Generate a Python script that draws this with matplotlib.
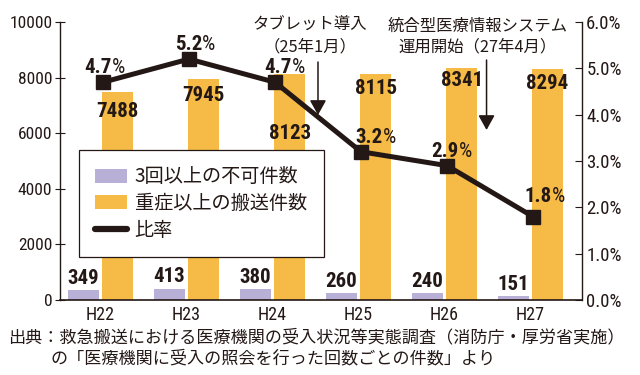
import matplotlib
matplotlib.use('Agg')
import matplotlib.pyplot as plt
from matplotlib import font_manager as fm
from matplotlib.patches import Patch
from matplotlib.lines import Line2D
import numpy as np

# フォント選択
names = {f.name for f in fm.fontManager.ttflist}
def pick(*cands):
    for c in cands:
        if c in names:
            return c
    return 'DejaVu Sans'

NUM = pick('Roboto Condensed', 'Liberation Sans Narrow', 'DejaVu Sans Condensed', 'Liberation Sans')
JP = 'Noto Sans CJK JP'
plt.rcParams['font.family'] = [JP, 'DejaVu Sans']

# データ
years = ['H22', 'H23', 'H24', 'H25', 'H26', 'H27']
refused = [349, 413, 380, 260, 240, 151]          # 3回以上の不可件数
transported = [7488, 7945, 8123, 8115, 8341, 8294]  # 重症以上の搬送件数
ratio = [4.7, 5.2, 4.7, 3.2, 2.9, 1.8]             # 比率(%)
left_ticks = [0, 2000, 4000, 6000, 8000, 10000]
right_ticks = [0, 1, 2, 3, 4, 5, 6]

ORANGE = '#F6BB47'
PURPLE = '#B8B0D6'
INK = '#231815'

fig = plt.figure(figsize=(6.4, 3.75), dpi=100)
ax = fig.add_axes([60 / 640, 1 - 300 / 375, 522 / 640, 278 / 375])
ax2 = ax.twinx()

x = np.arange(len(years))
ax.bar(x - 0.2, refused, width=0.36, color=PURPLE, zorder=2)
ax.bar(x + 0.2, transported, width=0.36, color=ORANGE, zorder=2)
ax2.plot(x + 0.03, ratio, color=INK, lw=3.6, marker='s', markersize=10.5,
         solid_joinstyle='miter', zorder=3)

ax.set_xlim(-0.47, 5.6)
ax.set_ylim(0, 10000)
ax2.set_ylim(0, 6)

# 軸の体裁
for s in ['top', 'right']:
    ax.spines[s].set_visible(False)
for s in ['top', 'left', 'bottom']:
    ax2.spines[s].set_visible(False)
ax.spines['left'].set_color(INK)
ax.spines['bottom'].set_color(INK)
ax2.spines['right'].set_color(INK)
ax.spines['left'].set_linewidth(1.0)
ax.spines['bottom'].set_linewidth(1.2)
ax2.spines['right'].set_linewidth(1.0)

ax.set_yticks(left_ticks)
ax.set_yticklabels([str(v) for v in left_ticks], fontfamily=NUM, fontsize=12.5, color=INK)
ax.tick_params(axis='y', direction='inout', length=7, width=0.8, color=INK, pad=2)
ax.set_xticks(x)
ax.set_xticklabels(years, fontfamily=NUM, fontsize=13, color=INK)
ax.tick_params(axis='x', length=0, pad=4)

ax2.set_yticks(right_ticks)
ax2.set_yticklabels([f'{v:.1f}%' for v in right_ticks], fontfamily=NUM, fontsize=13.5, color=INK)
ax2.tick_params(axis='y', direction='in', length=5, width=0.8, color=INK, pad=3)

# 数値ラベル
bar_dy = [-14, -11.5, -42.5, -10, -8.6, -10]
for i in range(len(years)):
    ax.annotate(str(refused[i]), (x[i] - 0.2, refused[i]), xytext=(0, 1.5),
                textcoords='offset points', ha='center', va='bottom',
                fontfamily=NUM, fontweight='bold', fontsize=15, color=INK, zorder=4)
    ax.annotate(str(transported[i]), (x[i] + 0.2, transported[i]), xytext=(0, bar_dy[i]),
                textcoords='offset points', ha='center', va='center',
                fontfamily=NUM, fontweight='bold', fontsize=15, color=INK, zorder=4)

pct_dx = [6.5, 9.4, 12.2, 15.8, 8.6, 13.7]
pct_dy = [10.8, 10.8, 10.8, 10, 10, 14.4]
for i in range(len(years)):
    ax2.annotate(f'{ratio[i]:.1f}', (x[i] + 0.03, ratio[i]), xytext=(pct_dx[i], pct_dy[i]),
                 textcoords='offset points', ha='right', va='center',
                 fontfamily=NUM, fontweight='bold', fontsize=15, color=INK)
    ax2.annotate('%', (x[i] + 0.03, ratio[i]), xytext=(pct_dx[i], pct_dy[i]),
                 textcoords='offset points', ha='left', va='center',
                 fontfamily=NUM, fontsize=15, color=INK)

# 注記の矢印
arrow = dict(arrowstyle='-|>,head_length=0.45,head_width=0.25', mutation_scale=20,
             lw=1.1, color=INK, shrinkA=0, shrinkB=0)
ax.annotate('', xy=(2.53, 6655), xytext=(2.53, 8561), arrowprops=arrow, zorder=5)
ax.annotate('', xy=(4.49, 6115), xytext=(4.49, 8633), arrowprops=arrow, zorder=5)

fig.text(310 / 640, 1 - 25 / 375, 'タブレット導入', ha='center', va='center', fontsize=11.8, color=INK)
fig.text(310 / 640, 1 - 47 / 375, '（25年1月）', ha='center', va='center', fontsize=11.8, color=INK)
fig.text(478 / 640, 1 - 26 / 375, '統合型医療情報システム', ha='center', va='center', fontsize=11.8, color=INK)
fig.text(478 / 640, 1 - 47 / 375, '運用開始（27年4月）', ha='center', va='center', fontsize=11.8, color=INK)

# 凡例
handles = [Patch(facecolor=PURPLE, edgecolor='none'),
           Patch(facecolor=ORANGE, edgecolor='none'),
           Line2D([], [], color=INK, lw=4.5, solid_capstyle='round')]
labels = ['3回以上の不可件数', '重症以上の搬送件数', '比率']
leg = ax2.legend(handles, labels, loc='upper left',
                 bbox_to_anchor=(79 / 640, 1 - 246 / 375, 245 / 640, 96 / 375),
                 bbox_transform=fig.transFigure, mode='expand',
                 prop={'family': JP, 'size': 13.8},
                 frameon=True, fancybox=False, framealpha=1, edgecolor=INK,
                 handlelength=1.65, handleheight=0.75, handletextpad=0.4,
                 labelspacing=0.3, borderpad=0.85, borderaxespad=0)
leg.get_frame().set_linewidth(0.9)
for t in leg.get_texts():
    t.set_color(INK)
leg.set_zorder(10)

# 出典
fig.text(8 / 640, 1 - 337 / 375, '出典：救急搬送における医療機関の受入状況等実態調査（消防庁・厚労省実施）',
         ha='left', va='center', fontsize=12.3, color=INK)
fig.text(50 / 640, 1 - 358 / 375, 'の「医療機関に受入の照会を行った回数ごとの件数」より',
         ha='left', va='center', fontsize=12.3, color=INK)

fig.savefig('out.png', dpi=100, facecolor='white')
